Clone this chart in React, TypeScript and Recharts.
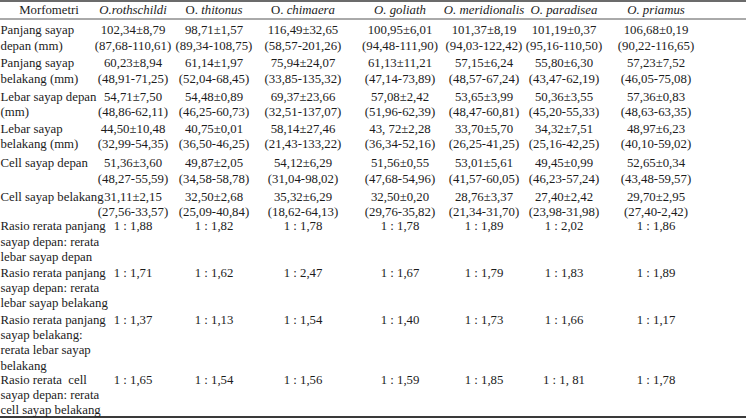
import React from 'react';
import { ScatterChart, Scatter, XAxis, YAxis, ReferenceLine } from 'recharts';

// ---------- data ----------
const headerLabel = 'Morfometri';
const speciesGenus = ['O.', 'O. ', 'O. ', 'O. ', 'O. ', 'O. ', 'O. '];
const speciesEpithet = ['rothschildi', 'thitonus', 'chimaera', 'goliath', 'meridionalis', 'paradisea', 'priamus'];

const rowLabels: string[][] = [
  ['Panjang sayap', 'depan (mm)'],
  ['Panjang sayap', 'belakang (mm)'],
  ['Lebar sayap depan', '(mm)'],
  ['Lebar sayap', 'belakang (mm)'],
  ['Cell sayap depan'],
  ['Cell sayap belakang'],
  ['Rasio rerata panjang', 'sayap depan: rerata', 'lebar sayap depan'],
  ['Rasio rerata panjang', 'sayap depan: rerata', 'lebar sayap belakang'],
  ['Rasio rerata panjang', 'sayap belakang:', 'rerata lebar sayap', 'belakang'],
  ['Rasio rerata  cell', 'sayap depan: rerata', 'cell sayap belakang'],
];

const panjangDepanMean = ['102,34±8,79', '98,71±1,57', '116,49±32,65', '100,95±6,01', '101,37±8,19', '101,19±0,37', '106,68±0,19'];
const panjangDepanRange = ['(87,68-110,61)', '(89,34-108,75)', '(58,57-201,26)', '(94,48-111,90)', '(94,03-122,42)', '(95,16-110,50)', '(90,22-116,65)'];
const panjangBelakangMean = ['60,23±8,94', '61,14±1,97', '75,94±24,07', '61,13±11,21', '57,15±6,24', '55,80±6,30', '57,23±7,52'];
const panjangBelakangRange = ['(48,91-71,25)', '(52,04-68,45)', '(33,85-135,32)', '(47,14-73,89)', '(48,57-67,24)', '(43,47-62,19)', '(46,05-75,08)'];
const lebarDepanMean = ['54,71±7,50', '54,48±0,89', '69,37±23,66', '57,08±2,42', '53,65±3,99', '50,36±3,55', '57,36±0,83'];
const lebarDepanRange = ['(48,86-62,11)', '(46,25-60,73)', '(32,51-137,07)', '(51,96-62,39)', '(48,47-60,81)', '(45,20-55,33)', '(48,63-63,35)'];
const lebarBelakangMean = ['44,50±10,48', '40,75±0,01', '58,14±27,46', '43, 72±2,28', '33,70±5,70', '34,32±7,51', '48,97±6,23'];
const lebarBelakangRange = ['(32,99-54,35)', '(36,50-46,25)', '(21,43-133,22)', '(36,34-52,16)', '(26,25-41,25)', '(25,16-42,25)', '(40,10-59,02)'];
const cellDepanMean = ['51,36±3,60', '49,87±2,05', '54,12±6,29', '51,56±0,55', '53,01±5,61', '49,45±0,99', '52,65±0,34'];
const cellDepanRange = ['(48,27-55,59)', '(34,58-58,78)', '(31,04-98,02)', '(47,68-54,96)', '(41,57-60,05)', '(46,23-57,24)', '(43,48-59,57)'];
const cellBelakangMean = ['31,11±2,15', '32,50±2,68', '35,32±6,29', '32,50±0,20', '28,76±3,37', '27,40±2,42', '29,70±2,95'];
const cellBelakangRange = ['(27,56-33,57)', '(25,09-40,84)', '(18,62-64,13)', '(29,76-35,82)', '(21,34-31,70)', '(23,98-31,98)', '(27,40-2,42)'];
const rasioPDLD = ['1 : 1,88', '1 : 1,82', '1 : 1,78', '1 : 1,78', '1 : 1,89', '1 : 2,02', '1 : 1,86'];
const rasioPDLB = ['1 : 1,71', '1 : 1,62', '1 : 2,47', '1 : 1,67', '1 : 1,79', '1 : 1,83', '1 : 1,89'];
const rasioPBLB = ['1 : 1,37', '1 : 1,13', '1 : 1,54', '1 : 1,40', '1 : 1,73', '1 : 1,66', '1 : 1,17'];
const rasioCell = ['1 : 1,65', '1 : 1,54', '1 : 1,56', '1 : 1,59', '1 : 1,85', '1 : 1, 81', '1 : 1,78'];

const rowValues: string[][][] = [
  [panjangDepanMean, panjangDepanRange],
  [panjangBelakangMean, panjangBelakangRange],
  [lebarDepanMean, lebarDepanRange],
  [lebarBelakangMean, lebarBelakangRange],
  [cellDepanMean, cellDepanRange],
  [cellBelakangMean, cellBelakangRange],
  [rasioPDLD],
  [rasioPDLB],
  [rasioPBLB],
  [rasioCell],
];

// ---------- layout ----------
const W = 751;
const H = 419;
const COL_X = [49, 133, 214, 303, 400, 484, 564, 656];
const LABEL_X = 0.5;
const HEADER_Y = 10;
const ROW_Y = [30, 63, 96.5, 128.5, 163, 196.5, 226, 272.5, 319.5, 379.5];
const LINE = 15.2;
const GENUS_UPRIGHT = [false, true, true, false, false, false, false];
const FONT = '"Liberation Serif", "Times New Roman", serif';
const FS = 12.8;
const INK = '#1c1c1c';

type Cell = { x: number; y: number; kind: string; text: string; col?: number };

const cells: Cell[] = [];
cells.push({ x: COL_X[0], y: HEADER_Y, kind: 'hdr', text: headerLabel });
speciesEpithet.forEach((ep, i) => cells.push({ x: COL_X[i + 1], y: HEADER_Y, kind: 'sp', text: ep, col: i }));
rowLabels.forEach((lines, r) =>
  lines.forEach((t, k) => cells.push({ x: LABEL_X, y: ROW_Y[r] + k * LINE, kind: 'lab', text: t }))
);
rowValues.forEach((series, r) =>
  series.forEach((arr, k) =>
    arr.forEach((t, c) => cells.push({ x: COL_X[c + 1], y: ROW_Y[r] + k * LINE, kind: 'val', text: t }))
  )
);

const CellText = (props: any) => {
  const { cx, cy, payload } = props;
  if (cx == null || cy == null) return null;
  const common = {
    x: cx,
    y: cy,
    dy: '0.35em',
    fontFamily: FONT,
    fontSize: FS,
    fill: INK,
    style: { whiteSpace: 'pre' as const },
  };
  if (payload.kind === 'sp') {
    const i = payload.col;
    return (
      <text {...common} textAnchor="middle">
        <tspan fontStyle={GENUS_UPRIGHT[i] ? 'normal' : 'italic'}>{speciesGenus[i]}</tspan>
        <tspan fontStyle="italic">{payload.text}</tspan>
      </text>
    );
  }
  return (
    <text {...common} textAnchor={payload.kind === 'lab' ? 'start' : 'middle'}>
      {payload.text}
    </text>
  );
};

export default function App() {
  return (
    <div style={{ position: 'absolute', left: 0, top: 0, width: W, height: H, background: '#fff' }}>
      <ScatterChart width={W} height={H} margin={{ top: 0, right: 0, bottom: 0, left: 0 }}>
        <XAxis type="number" dataKey="x" domain={[0, W]} hide />
        <YAxis type="number" dataKey="y" domain={[0, H]} reversed hide />
        <ReferenceLine segment={[{ x: 0, y: 1 }, { x: 746, y: 1 }]} stroke="#3a3a3a" strokeWidth={1.5} ifOverflow="visible" />
        <ReferenceLine segment={[{ x: 0, y: 19 }, { x: 746, y: 19 }]} stroke="#555" strokeWidth={1} ifOverflow="visible" />
        <ReferenceLine segment={[{ x: 0, y: 417 }, { x: 746, y: 417 }]} stroke="#3a3a3a" strokeWidth={2} ifOverflow="visible" />
        <Scatter data={cells} shape={CellText} isAnimationActive={false} />
      </ScatterChart>
    </div>
  );
}
